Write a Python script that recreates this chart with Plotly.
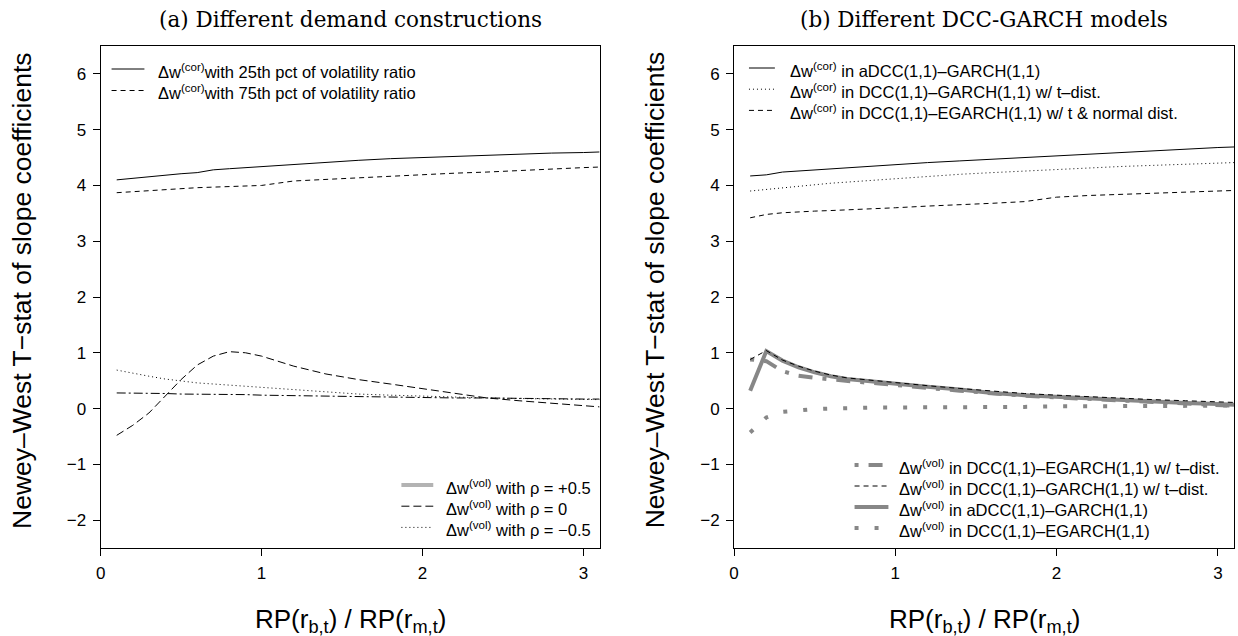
import plotly.graph_objects as go

# ---------------- data ----------------
x_grid = [0.1, 0.2, 0.3, 0.4, 0.5, 0.6, 0.7, 0.8, 0.9, 1.0, 1.2, 1.4, 1.6, 1.8,
          2.0, 2.2, 2.4, 2.6, 2.8, 3.0, 3.1]

# panel (a)
cor_25 = [4.10, 4.13, 4.16, 4.19, 4.21, 4.23, 4.28, 4.30, 4.32, 4.34, 4.38, 4.42,
          4.45, 4.48, 4.50, 4.52, 4.55, 4.56, 4.58, 4.59, 4.60]
cor_75 = [3.87, 3.89, 3.91, 3.93, 3.94, 3.96, 3.97, 3.98, 3.99, 4.00, 4.08, 4.11,
          4.14, 4.17, 4.19, 4.22, 4.24, 4.27, 4.30, 4.32, 4.33]
vol_rho_pos = [0.28, 0.28, 0.27, 0.27, 0.26, 0.26, 0.25, 0.25, 0.25, 0.24, 0.23,
               0.22, 0.21, 0.21, 0.20, 0.19, 0.19, 0.18, 0.18, 0.17, 0.17]
vol_rho_0 = [-0.48, -0.30, -0.08, 0.22, 0.52, 0.78, 0.94, 1.02, 1.00, 0.94, 0.76,
             0.62, 0.52, 0.44, 0.36, 0.27, 0.19, 0.14, 0.10, 0.05, 0.03]
vol_rho_neg = [0.69, 0.63, 0.58, 0.53, 0.49, 0.46, 0.44, 0.42, 0.40, 0.38, 0.34,
               0.30, 0.26, 0.24, 0.22, 0.20, 0.19, 0.18, 0.17, 0.16, 0.16]

# panel (b)
cor_adcc = [4.17, 4.19, 4.24, 4.26, 4.28, 4.30, 4.32, 4.34, 4.36, 4.38, 4.41, 4.44,
            4.47, 4.50, 4.53, 4.56, 4.60, 4.63, 4.66, 4.68, 4.69]
cor_garch_t = [3.90, 3.93, 3.96, 3.98, 4.01, 4.04, 4.06, 4.08, 4.10, 4.12, 4.17,
               4.20, 4.23, 4.26, 4.28, 4.31, 4.34, 4.36, 4.38, 4.40, 4.41]
cor_egarch_tn = [3.42, 3.48, 3.51, 3.53, 3.54, 3.55, 3.56, 3.57, 3.59, 3.60, 3.63,
                 3.65, 3.68, 3.71, 3.79, 3.82, 3.84, 3.86, 3.88, 3.90, 3.91]
vol_egarch_t = [0.88, 0.85, 0.67, 0.59, 0.55, 0.52, 0.49, 0.47, 0.45, 0.42, 0.37,
                0.32, 0.27, 0.23, 0.20, 0.17, 0.14, 0.11, 0.08, 0.05, 0.05]
vol_garch_t = [0.88, 1.04, 0.87, 0.76, 0.67, 0.60, 0.55, 0.52, 0.49, 0.46, 0.41,
               0.36, 0.31, 0.27, 0.24, 0.21, 0.18, 0.16, 0.14, 0.12, 0.11]
vol_adcc = [0.32, 1.03, 0.86, 0.74, 0.65, 0.58, 0.53, 0.50, 0.47, 0.44, 0.39,
            0.34, 0.28, 0.24, 0.21, 0.18, 0.15, 0.12, 0.10, 0.08, 0.07]
vol_egarch = [-0.43, -0.16, -0.06, -0.03, -0.01, 0.00, 0.01, 0.01, 0.02, 0.02, 0.02,
              0.03, 0.03, 0.03, 0.04, 0.04, 0.04, 0.05, 0.05, 0.05, 0.06]

x_ticks = [0, 1, 2, 3]
y_ticks = [-2, -1, 0, 1, 2, 3, 4, 5, 6]

titles = ["(a) Different demand constructions", "(b) Different DCC-GARCH models"]
y_title = "Newey–West T−stat of slope coefficients"
x_title = "RP(r<sub>b,t</sub>) / RP(r<sub>m,t</sub>)"

cor = "Δw<sup>(cor)</sup>"
vol = "Δw<sup>(vol)</sup>"

# ---------------- styles ----------------
W, H = 1238, 636
SANS = "Liberation Sans"
SERIF = "DejaVu Serif"
GREY = "#878787"
LGREY = "#b3b3b3"

S_SOLID = dict(color="black", width=1, dash="solid")
S_DASH = dict(color="black", width=1, dash="5px,4px")
S_LDASH = dict(color="black", width=1, dash="8px,4px")
S_DOT = dict(color="black", width=1, dash="1px,3px")
S_DASHDOT = dict(color="black", width=1, dash="9px,3px,2px,3px")
S_LGREY = dict(color=LGREY, width=4, dash="solid")
S_GREY = dict(color=GREY, width=4, dash="solid")
S_GREY_DOTDASH = dict(color=GREY, width=4, dash="4px,10px,14px,10px")
S_GREY_DOT = dict(color=GREY, width=4, dash="4px,16px")

fig = go.Figure()


def add(y, ax, style):
    fig.add_trace(go.Scatter(
        x=x_grid, y=y, mode="lines", line=style, showlegend=False,
        xaxis="x" if ax == 1 else "x2", yaxis="y" if ax == 1 else "y2",
        hoverinfo="skip"))


# panel (a)
add(cor_25, 1, S_SOLID)
add(cor_75, 1, S_DASH)
add(vol_rho_pos, 1, S_DASHDOT)
add(vol_rho_0, 1, S_LDASH)
add(vol_rho_neg, 1, S_DOT)
# panel (b)
add(cor_adcc, 2, S_SOLID)
add(cor_garch_t, 2, S_DOT)
add(cor_egarch_tn, 2, S_DASH)
add(vol_egarch_t, 2, S_GREY_DOTDASH)
add(vol_adcc, 2, S_GREY)
add(vol_garch_t, 2, S_DASH)
add(vol_egarch, 2, S_GREY_DOT)

# geometry (pixels)
L1, R1 = 96, 597
L2, R2 = 732, 1234
TOP, BOT = 46, 548
px = lambda v: v / W
py = lambda v: 1 - v / H

axis_common = dict(showline=True, linecolor="black", linewidth=1, mirror=True,
                   ticks="outside", ticklen=7, tickwidth=1, tickcolor="black",
                   showgrid=False, zeroline=False, ticklabelstandoff=3,
                   tickfont=dict(family=SANS, size=17, color="black"))

fig.update_layout(
    width=W, height=H, margin=dict(l=0, r=0, t=0, b=0),
    paper_bgcolor="white", plot_bgcolor="white",
    xaxis=dict(domain=[px(L1), px(R1)], range=[0, 3.1], tickvals=x_ticks,
               anchor="y", **axis_common),
    yaxis=dict(domain=[py(BOT), py(TOP)], range=[-2.5, 6.5], tickvals=y_ticks,
               anchor="x", **axis_common),
    xaxis2=dict(domain=[px(L2), px(R2)], range=[0, 3.1], tickvals=x_ticks,
                anchor="y2", **axis_common),
    yaxis2=dict(domain=[py(BOT), py(TOP)], range=[-2.5, 6.5], tickvals=y_ticks,
                anchor="x2", **axis_common),
)

# ---------------- legends (drawn as key lines + text) ----------------
legends = [
    # (sample x0, sample x1, text x, first row y, row step, entries)
    (107, 140, 152, 69, 21.5, [
        (S_SOLID, cor + "with 25th pct of volatility ratio"),
        (S_DASH, cor + "with 75th pct of volatility ratio")]),
    (398, 430, 441, 485, 21.2, [
        (S_LGREY, vol + " with ρ = +0.5"),
        (S_LDASH, vol + " with ρ = 0"),
        (S_DOT, vol + " with ρ = −0.5")]),
    (747, 773, 786, 68, 21.2, [
        (S_SOLID, cor + " in aDCC(1,1)–GARCH(1,1)"),
        (S_DOT, cor + " in DCC(1,1)–GARCH(1,1) w/ t–dist."),
        (S_DASH, cor + " in DCC(1,1)–EGARCH(1,1) w/ t & normal dist.")]),
    (853, 887, 896, 465, 21.0, [
        (S_GREY_DOTDASH, vol + " in DCC(1,1)–EGARCH(1,1) w/ t–dist."),
        (S_DASH, vol + " in DCC(1,1)–GARCH(1,1) w/ t–dist."),
        (S_GREY, vol + " in aDCC(1,1)–GARCH(1,1)"),
        (S_GREY_DOT, vol + " in DCC(1,1)–EGARCH(1,1)")]),
]

shapes, annotations = [], []
for sx0, sx1, tx, y0, step, entries in legends:
    for k, (style, label) in enumerate(entries):
        yy = y0 + k * step
        shapes.append(dict(type="line", xref="paper", yref="paper",
                           x0=px(sx0), x1=px(sx1), y0=py(yy), y1=py(yy),
                           line=style))
        annotations.append(dict(text=label, x=px(tx), y=py(yy + 2), xref="paper",
                                yref="paper", showarrow=False, xanchor="left",
                                yanchor="middle",
                                font=dict(family=SANS, size=16.5, color="black")))

for i, cx in enumerate([(L1 + R1) / 2, (L2 + R2) / 2]):
    annotations.append(dict(text=titles[i], x=px(cx), y=py(19), xref="paper", yref="paper",
                            showarrow=False, xanchor="center", yanchor="middle",
                            font=dict(family=SERIF, size=21.5, color="black")))
    annotations.append(dict(text=x_title, x=px(cx), y=py(620), xref="paper", yref="paper",
                            showarrow=False, xanchor="center", yanchor="middle",
                            font=dict(family=SANS, size=26, color="black")))
for ax in [17, 653]:
    annotations.append(dict(text=y_title, x=px(ax), y=py(290), xref="paper",
                            yref="paper", showarrow=False, textangle=-90,
                            xanchor="center", yanchor="middle",
                            font=dict(family=SANS, size=26.5, color="black")))
fig.update_layout(shapes=shapes, annotations=annotations)

# remove the default page margin so the figure sits at the top-left corner
fig.write_html("out.html", config={"displayModeBar": False},
               post_script="document.body.style.margin='0px';")
